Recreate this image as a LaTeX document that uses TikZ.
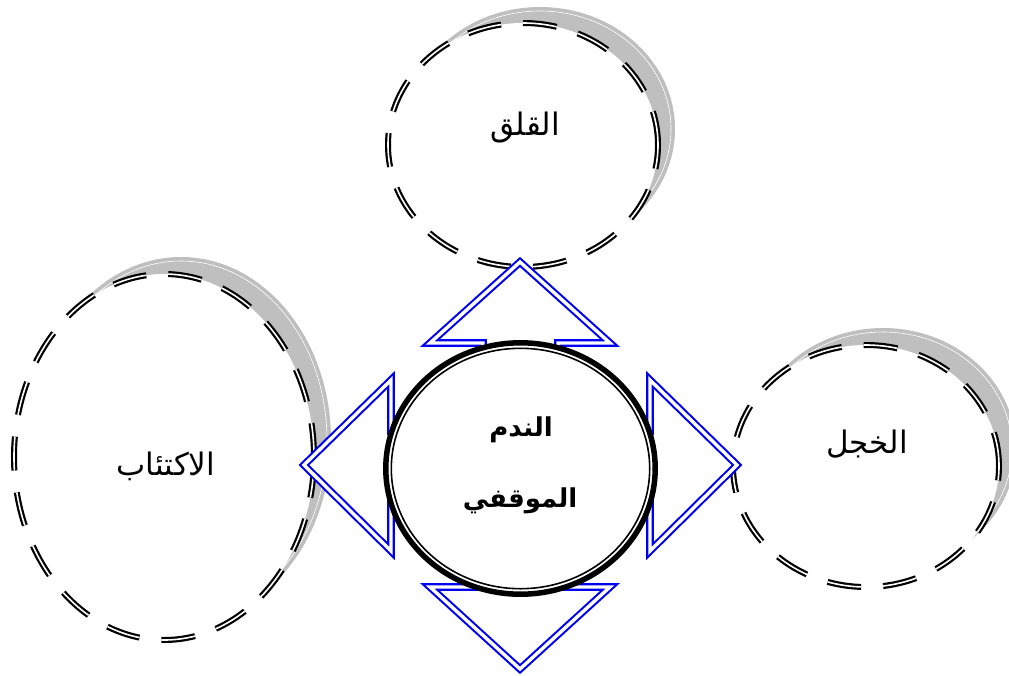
\documentclass[tikz,border=0pt]{standalone}
\usepackage{fontspec}
\usetikzlibrary{shapes.geometric}
\TeXXeTstate=1
\newfontfamily\arabicfont[Script=Arabic]{DejaVu Sans}
\definecolor{shadowgray}{RGB}{191,191,191}
\definecolor{arrowblue}{RGB}{0,0,240}
\begin{document}
\begin{tikzpicture}[x=1pt,y=-1pt,
  shadowfill/.style={fill=shadowgray,draw=none},
  shadowline/.style={draw=white,line width=0.6pt},
  bubble/.style={ellipse,inner sep=0pt,fill=white,draw=black,double=white,double distance=1.6pt,line width=2.2pt,dash pattern=on 34pt off 22pt},
  arrowshape/.style={draw=arrowblue,double=white,double distance=3.4pt,line width=2.1pt,fill=white,line join=miter},
  corering/.style={ellipse,inner sep=0pt,fill=white,draw=black,line width=5.5pt},
  innerring/.style={draw=black,line width=1.6pt},
  plainlabel/.style={font=\arabicfont\fontsize{31}{36}\selectfont},
  boldlabel/.style={font=\arabicfont\bfseries\fontsize{26}{30}\selectfont,align=center}
]
\useasboundingbox (0,0) rectangle (1009,675);
% shadows
\fill[shadowfill] (540,129) ellipse [x radius=135pt, y radius=122pt];
\draw[shadowline] (540,129) ellipse [x radius=131pt, y radius=118pt];
\fill[shadowfill] (181,440) ellipse [x radius=150pt, y radius=183pt];
\draw[shadowline] (181,440) ellipse [x radius=146pt, y radius=179pt];
\fill[shadowfill] (883,449) ellipse [x radius=133pt, y radius=121pt];
\draw[shadowline] (883,449) ellipse [x radius=129pt, y radius=117pt];
% bubbles
\node[bubble,minimum width=270pt,minimum height=244pt] (anx) at (523,145) {};
\node[bubble,minimum width=300pt,minimum height=366pt] (dep) at (164,457) {};
\node[bubble,minimum width=266pt,minimum height=242pt] (shy) at (866,466) {};
\node[plainlabel] (anxt) at (525,128) {\beginR القلق\endR};
\node[plainlabel] (dept) at (166,466) {\beginR الاكتئاب\endR};
\node[plainlabel] (shyt) at (867,444) {\beginR الخجل\endR};
% arrows
\draw[arrowshape] (483,470) -- (483,343) -- (430,343) -- (520,262) -- (610,343) -- (558,343) -- (558,470) -- cycle;
\draw[arrowshape] (520,431) -- (391,431) -- (391,380) -- (304,465) -- (391,551) -- (391,500) -- (520,500) -- cycle;
\draw[arrowshape] (520,431) -- (650,431) -- (650,380) -- (737,465) -- (650,551) -- (650,500) -- (520,500) -- cycle;
\draw[arrowshape] (483,470) -- (483,587) -- (430,587) -- (520,669) -- (610,587) -- (558,587) -- (558,470) -- cycle;
% core
\node[corering,minimum width=269.4pt,minimum height=251.4pt] (core) at (520.5,468.5) {};
\draw[innerring] (core.center) ellipse [x radius=129.2pt, y radius=120.2pt];
\node[boldlabel] (coret1) at (521,430) {\beginR الندم\endR};
\node[boldlabel] (coret2) at (520,501) {\beginR الموقفي\endR};
\end{tikzpicture}
\end{document}
